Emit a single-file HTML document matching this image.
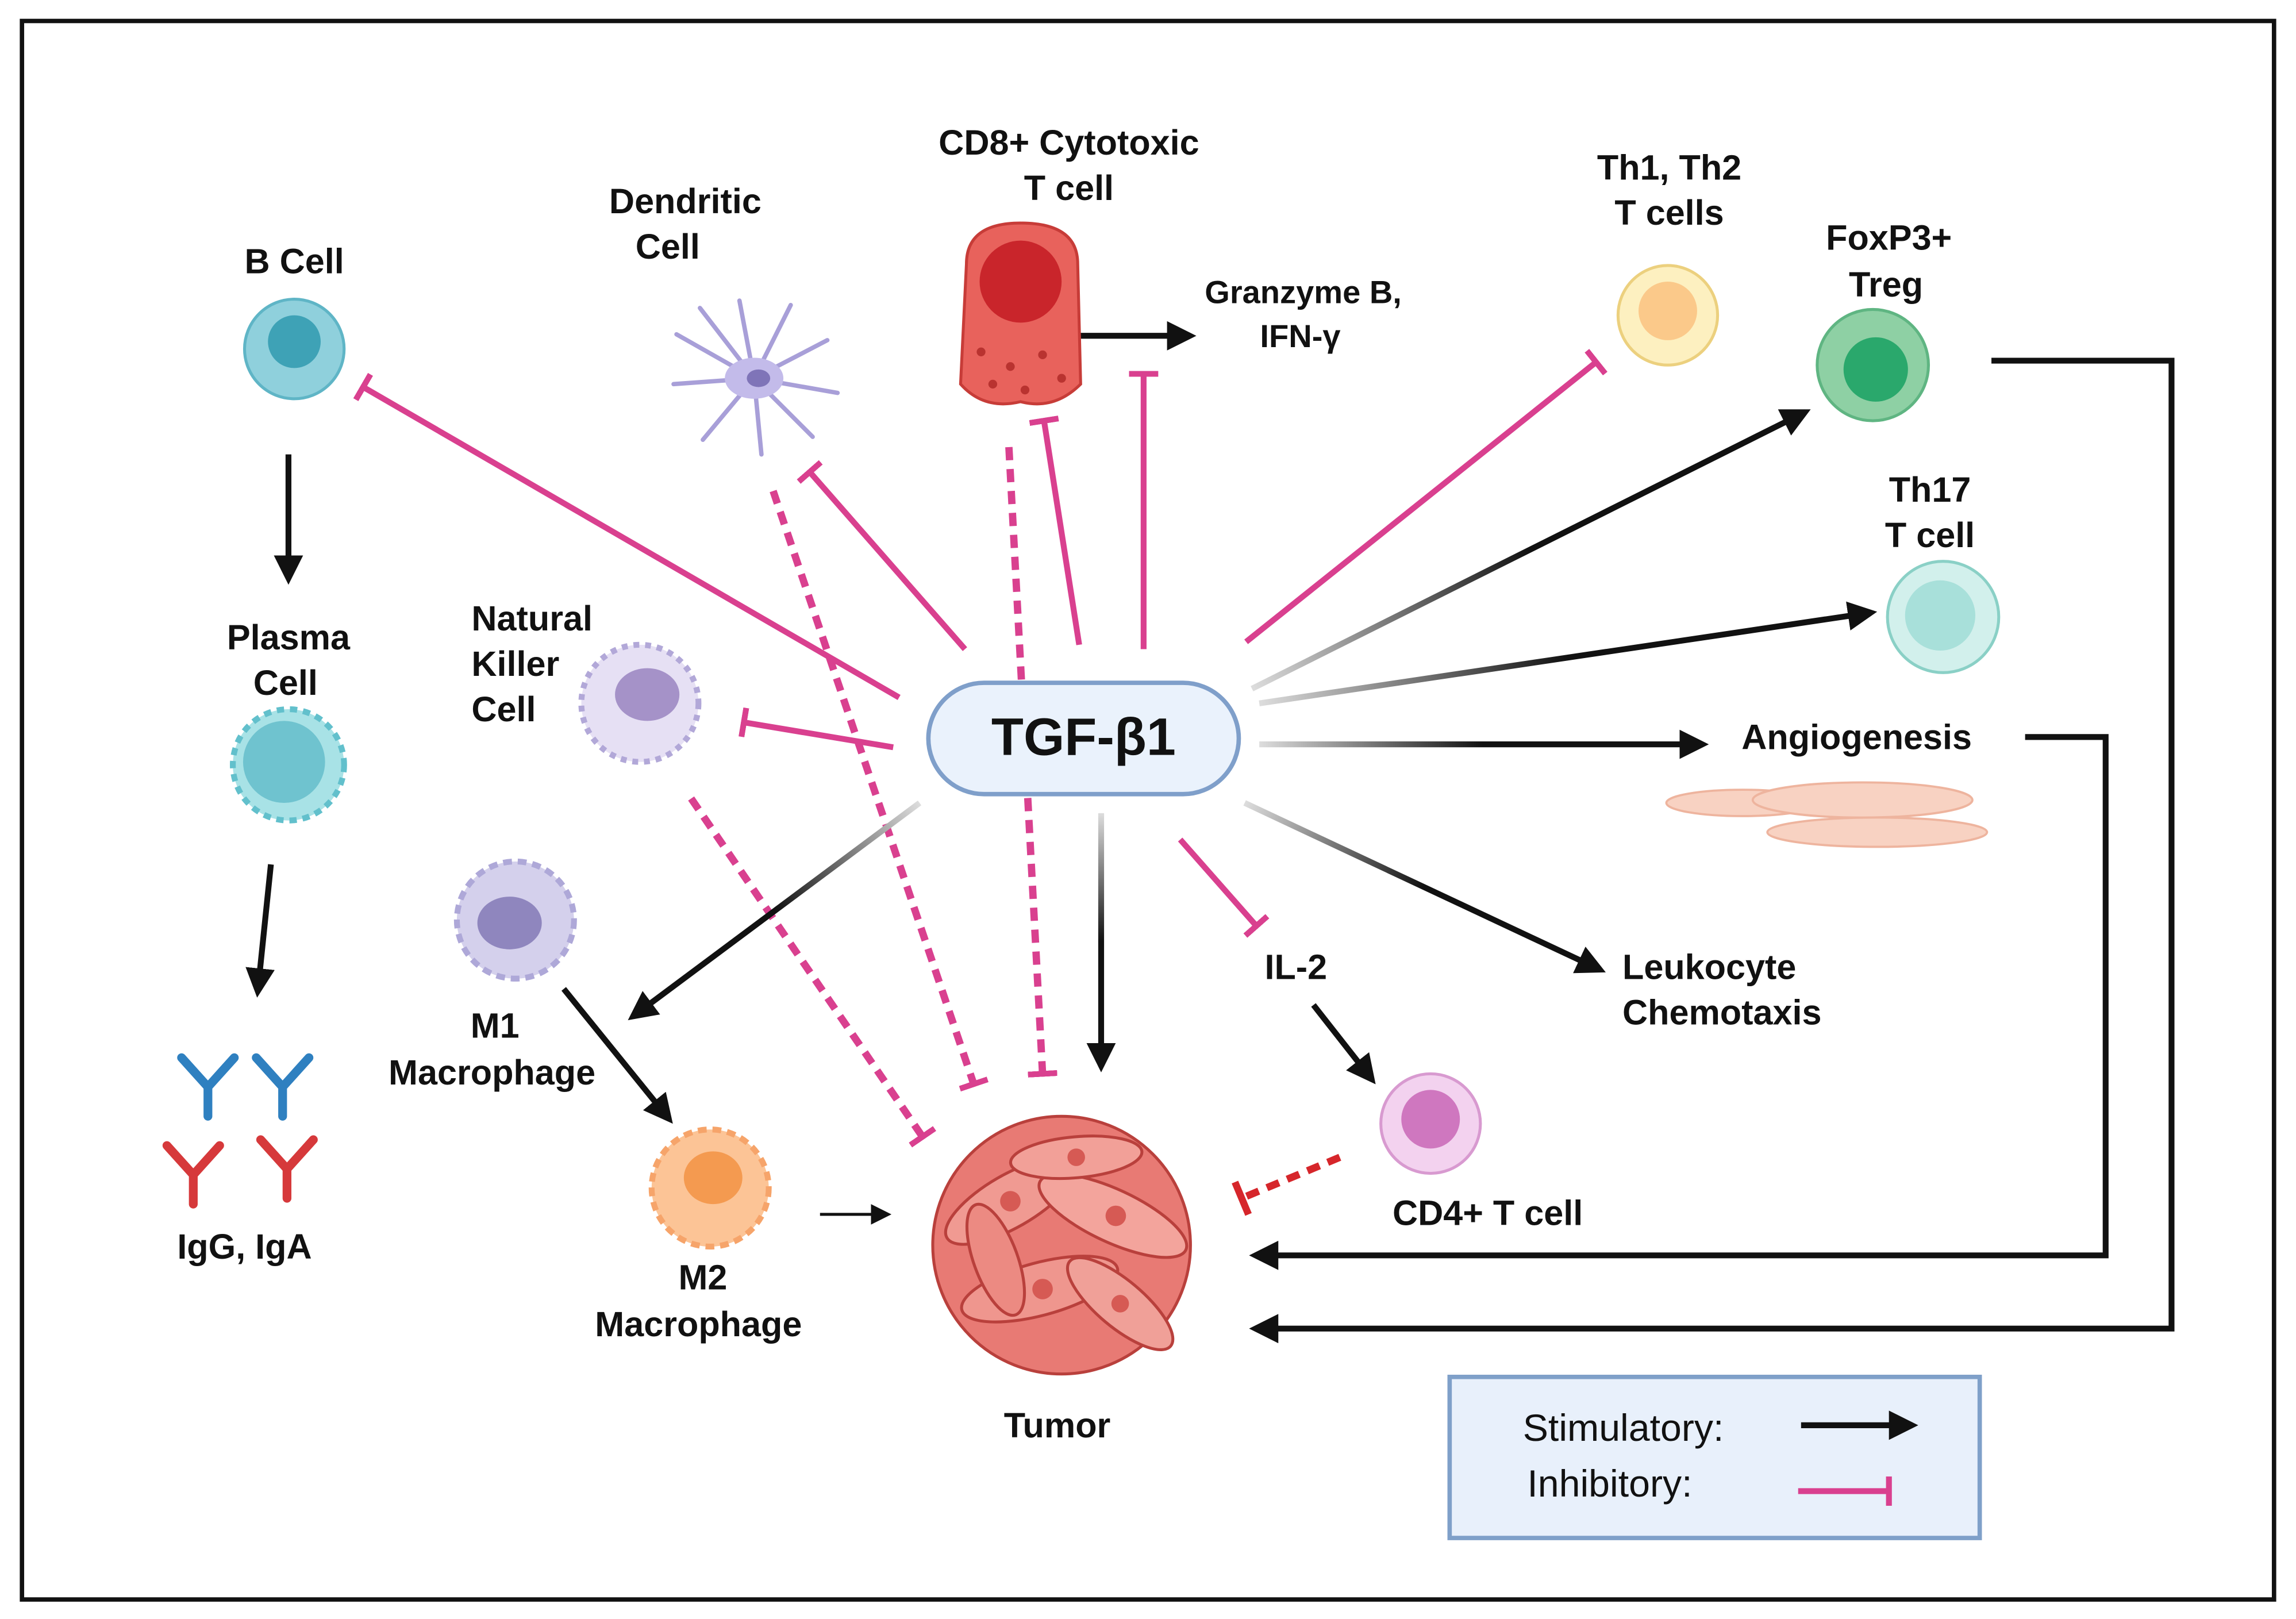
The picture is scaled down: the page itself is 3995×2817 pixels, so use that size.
<!DOCTYPE html>
<html><head><meta charset="utf-8">
<style>
html,body{margin:0;padding:0;background:#fff;}
svg{display:block;}
text{font-family:"Liberation Sans",sans-serif;font-weight:bold;fill:#111;dominant-baseline:central;text-anchor:middle;}
</style></head><body>
<svg width="3995" height="2817" viewBox="0 0 1568 1105" xmlns="http://www.w3.org/2000/svg">
<defs>
<marker id="ah" viewBox="0 0 10 10" refX="8" refY="5" markerWidth="5" markerHeight="5" orient="auto" markerUnits="strokeWidth"><path d="M0,0 L10,5 L0,10 z" fill="#111"/></marker>
<marker id="ahs" viewBox="0 0 10 10" refX="8" refY="5" markerWidth="7" markerHeight="7" orient="auto" markerUnits="strokeWidth"><path d="M0,0 L10,5 L0,10 z" fill="#111"/></marker>
<marker id="tb" viewBox="0 0 4 20" refX="2" refY="10" markerWidth="4" markerHeight="20" orient="auto" markerUnits="userSpaceOnUse"><rect x="0" y="0" width="4" height="20" fill="#d9408f"/></marker>
<marker id="tbr" viewBox="0 0 4 20" refX="2" refY="10" markerWidth="5" markerHeight="24" orient="auto" markerUnits="userSpaceOnUse"><rect x="0" y="0" width="4" height="20" fill="#d6262b"/></marker>
<linearGradient id="g1" gradientUnits="userSpaceOnUse" x1="855" y1="470" x2="1235" y2="280"><stop offset="0" stop-color="#ddd"/><stop offset="0.5" stop-color="#111"/></linearGradient>
<linearGradient id="g2" gradientUnits="userSpaceOnUse" x1="860" y1="480" x2="1280" y2="418"><stop offset="0" stop-color="#ddd"/><stop offset="0.5" stop-color="#111"/></linearGradient>
<linearGradient id="g3" gradientUnits="userSpaceOnUse" x1="860" y1="508" x2="1165" y2="508"><stop offset="0" stop-color="#ddd"/><stop offset="0.5" stop-color="#111"/></linearGradient>
<linearGradient id="g4" gradientUnits="userSpaceOnUse" x1="850" y1="548" x2="1095" y2="663"><stop offset="0" stop-color="#ddd"/><stop offset="0.5" stop-color="#111"/></linearGradient>
<linearGradient id="g5" gradientUnits="userSpaceOnUse" x1="628" y1="548" x2="430" y2="695"><stop offset="0" stop-color="#ddd"/><stop offset="0.5" stop-color="#111"/></linearGradient>
<linearGradient id="g6" gradientUnits="userSpaceOnUse" x1="752" y1="555" x2="752" y2="730"><stop offset="0" stop-color="#ddd"/><stop offset="0.5" stop-color="#111"/></linearGradient>
</defs>
<rect width="1568" height="1105" fill="#fff"/>
<rect x="15" y="14" width="1538" height="1078" fill="none" stroke="#111" stroke-width="3"/>

<g stroke="#d9408f" stroke-width="4" fill="none">
<line x1="614" y1="476" x2="248" y2="264" marker-end="url(#tb)"/>
<line x1="610" y1="510" x2="508" y2="493" marker-end="url(#tb)"/>
<line x1="659" y1="443" x2="553" y2="322" marker-end="url(#tb)"/>
<line x1="737" y1="440" x2="713" y2="287" marker-end="url(#tb)"/>
<line x1="781" y1="443" x2="781" y2="255" marker-end="url(#tb)"/>
<line x1="851" y1="438" x2="1090" y2="247" marker-end="url(#tb)"/>
<line x1="806" y1="573" x2="858" y2="632" marker-end="url(#tb)"/>
</g>
<g stroke="#d9408f" stroke-width="5" fill="none" stroke-dasharray="9,6">
<line x1="528" y1="335" x2="665" y2="740" marker-end="url(#tb)"/>
<line x1="472" y1="545" x2="630" y2="776" marker-end="url(#tb)"/>
<line x1="689" y1="305" x2="712" y2="733" marker-end="url(#tb)"/>
</g>
<line x1="915" y1="790" x2="848" y2="818" stroke="#d6262b" stroke-width="5" stroke-dasharray="9,6" marker-end="url(#tbr)"/>

<g stroke-width="4" fill="none">
<line x1="855" y1="470" x2="1233" y2="281" stroke="url(#g1)" marker-end="url(#ah)"/>
<line x1="860" y1="480" x2="1278" y2="418" stroke="url(#g2)" marker-end="url(#ah)"/>
<line x1="860" y1="508" x2="1163" y2="508" stroke="url(#g3)" marker-end="url(#ah)"/>
<line x1="850" y1="548" x2="1093" y2="662" stroke="url(#g4)" marker-end="url(#ah)"/>
<line x1="628" y1="548" x2="432" y2="694" stroke="url(#g5)" marker-end="url(#ah)"/>
<line x1="752" y1="555" x2="752" y2="728" stroke="url(#g6)" marker-end="url(#ah)"/>
<g stroke="#111">
<line x1="735" y1="229" x2="813" y2="229" marker-end="url(#ah)"/>
<line x1="897" y1="686" x2="937" y2="737" marker-end="url(#ah)"/>
<line x1="197" y1="310" x2="197" y2="395" marker-end="url(#ah)"/>
<line x1="185" y1="590" x2="176" y2="677" marker-end="url(#ah)"/>
<line x1="385" y1="675" x2="457" y2="764" marker-end="url(#ah)"/>
<line x1="560" y1="829" x2="606" y2="829" stroke-width="2" marker-end="url(#ahs)"/>
<polyline points="1383,503 1438,503 1438,857 857,857" marker-end="url(#ah)"/>
<polyline points="1360,246 1483,246 1483,907 857,907" marker-end="url(#ah)"/>
</g>
</g>

<rect x="634" y="466" width="212" height="76" rx="38" fill="#eaf2fc" stroke="#7f9fca" stroke-width="3"/>
<text x="740" y="503" font-size="36">TGF-β1</text>

<circle cx="201" cy="238" r="34" fill="#8fd0dc" stroke="#5fb5c6" stroke-width="2"/><circle cx="201" cy="233" r="18" fill="#3ea2b6"/>
<g stroke="#a89fd8" stroke-width="3" fill="none" stroke-linecap="round">
<path d="M515,258 L462,228 M515,258 L478,210 M515,258 L505,205 M515,258 L540,208 M515,258 L565,232 M515,258 L572,268 M515,258 L555,298 M515,258 L520,310 M515,258 L480,300 M515,258 L460,262"/>
</g>
<ellipse cx="515" cy="258" rx="20" ry="14" fill="#c3bbea"/><ellipse cx="518" cy="258" rx="8" ry="6" fill="#7f74b8"/>
<path d="M660,180 Q660,152 697,152 Q736,152 736,180 L738,262 Q720,280 697,274 Q672,280 656,262 Z" fill="#e8625c" stroke="#c73c38" stroke-width="2"/>
<circle cx="697" cy="192" r="28" fill="#c9252b"/>
<g fill="#b93330"><circle cx="670" cy="240" r="3"/><circle cx="690" cy="250" r="3"/><circle cx="712" cy="242" r="3"/><circle cx="725" cy="258" r="3"/><circle cx="678" cy="262" r="3"/><circle cx="700" cy="266" r="3"/></g>
<circle cx="1139" cy="215" r="34" fill="#fdf0c0" stroke="#ecd07e" stroke-width="2"/><circle cx="1139" cy="212" r="20" fill="#fbc98a"/>
<circle cx="1279" cy="249" r="38" fill="#8ed0a4" stroke="#5fb582" stroke-width="2"/><circle cx="1281" cy="252" r="22" fill="#2aa86c"/>
<circle cx="1327" cy="421" r="38" fill="#d2f0ec" stroke="#8ad0c6" stroke-width="2"/><circle cx="1325" cy="420" r="24" fill="#a8e0da"/>
<circle cx="197" cy="522" r="38" fill="#a8e2e6" stroke="#62c0cc" stroke-width="4" stroke-dasharray="5,4"/><circle cx="194" cy="520" r="28" fill="#6fc3cf"/>
<circle cx="437" cy="480" r="40" fill="#e6e0f4" stroke="#b2a8d8" stroke-width="4" stroke-dasharray="4,4"/><ellipse cx="442" cy="474" rx="22" ry="18" fill="#a592c8"/>
<circle cx="352" cy="628" r="40" fill="#d4d0ec" stroke="#aea8d8" stroke-width="4" stroke-dasharray="6,4"/><ellipse cx="348" cy="630" rx="22" ry="18" fill="#8f86be"/>
<circle cx="485" cy="811" r="40" fill="#fcc496" stroke="#f6a46a" stroke-width="4" stroke-dasharray="6,4"/><ellipse cx="487" cy="804" rx="20" ry="18" fill="#f49a50"/>
<circle cx="977" cy="767" r="34" fill="#f3d2ef" stroke="#d89ad0" stroke-width="2"/><circle cx="977" cy="764" r="20" fill="#cf77bf"/>
<g fill="#f8d2c2" stroke="#eeb49e" stroke-width="1.5">
<ellipse cx="1190" cy="548" rx="52" ry="9"/><ellipse cx="1272" cy="546" rx="75" ry="12"/><ellipse cx="1282" cy="568" rx="75" ry="10"/>
</g>
<g stroke-width="6" fill="none" stroke-linecap="round">
<path d="M142,762 L142,742 L124,722 M142,742 L160,722" stroke="#2f80c0"/>
<path d="M193,762 L193,742 L175,722 M193,742 L211,722" stroke="#2f80c0"/>
<path d="M132,822 L132,802 L114,782 M132,802 L150,782" stroke="#d6393b"/>
<path d="M196,818 L196,798 L178,778 M196,798 L214,778" stroke="#d6393b"/>
</g>
<g stroke="#b9403c" stroke-width="2">
<circle cx="725" cy="850" r="88" fill="#e87a74"/>
<ellipse cx="690" cy="820" rx="50" ry="18" transform="rotate(-30 690 820)" fill="#f09a92"/>
<ellipse cx="760" cy="830" rx="55" ry="18" transform="rotate(25 760 830)" fill="#f3a49c"/>
<ellipse cx="710" cy="880" rx="55" ry="18" transform="rotate(-15 710 880)" fill="#ef968e"/>
<ellipse cx="765" cy="890" rx="45" ry="16" transform="rotate(40 765 890)" fill="#f0a098"/>
<ellipse cx="680" cy="860" rx="40" ry="15" transform="rotate(70 680 860)" fill="#ec8a82"/>
<ellipse cx="735" cy="790" rx="45" ry="14" transform="rotate(-5 735 790)" fill="#f2a098"/>
</g>
<g fill="#d65a54"><circle cx="690" cy="820" r="7"/><circle cx="762" cy="830" r="7"/><circle cx="712" cy="880" r="7"/><circle cx="765" cy="890" r="6"/><circle cx="735" cy="790" r="6"/></g>

<rect x="990" y="940" width="362" height="110" fill="#e8f0fb" stroke="#7fa0c9" stroke-width="3"/>
<text x="1040" y="975" font-size="26" style="text-anchor:start;font-weight:normal">Stimulatory:</text>
<text x="1043" y="1013" font-size="26" style="text-anchor:start;font-weight:normal">Inhibitory:</text>
<line x1="1230" y1="973" x2="1306" y2="973" stroke="#111" stroke-width="4" marker-end="url(#ah)"/>
<line x1="1228" y1="1018" x2="1290" y2="1018" stroke="#d9408f" stroke-width="4" marker-end="url(#tb)"/>

<g font-size="24">
<text x="201" y="178">B Cell</text>
<text x="468" y="137">Dendritic</text><text x="456" y="168">Cell</text>
<text x="730" y="97">CD8+ Cytotoxic</text><text x="730" y="128">T cell</text>
<text x="890" y="199" font-size="22">Granzyme B,</text><text x="888" y="229" font-size="22">IFN-γ</text>
<text x="1140" y="114">Th1, Th2</text><text x="1140" y="145">T cells</text>
<text x="1290" y="162">FoxP3+</text><text x="1288" y="194">Treg</text>
<text x="1318" y="334">Th17</text><text x="1318" y="365">T cell</text>
<text x="197" y="435">Plasma</text><text x="195" y="466">Cell</text>
<text x="322" y="422" style="text-anchor:start">Natural</text><text x="322" y="453" style="text-anchor:start">Killer</text><text x="322" y="484" style="text-anchor:start">Cell</text>
<text x="1268" y="503">Angiogenesis</text>
<text x="885" y="660">IL-2</text>
<text x="1108" y="660" style="text-anchor:start">Leukocyte</text><text x="1108" y="691" style="text-anchor:start">Chemotaxis</text>
<text x="338" y="700">M1</text><text x="336" y="732">Macrophage</text>
<text x="480" y="872">M2</text><text x="477" y="904">Macrophage</text>
<text x="167" y="851">IgG, IgA</text>
<text x="1016" y="828">CD4+  T cell</text>
<text x="722" y="973">Tumor</text>
</g>
</svg>
</body></html>
